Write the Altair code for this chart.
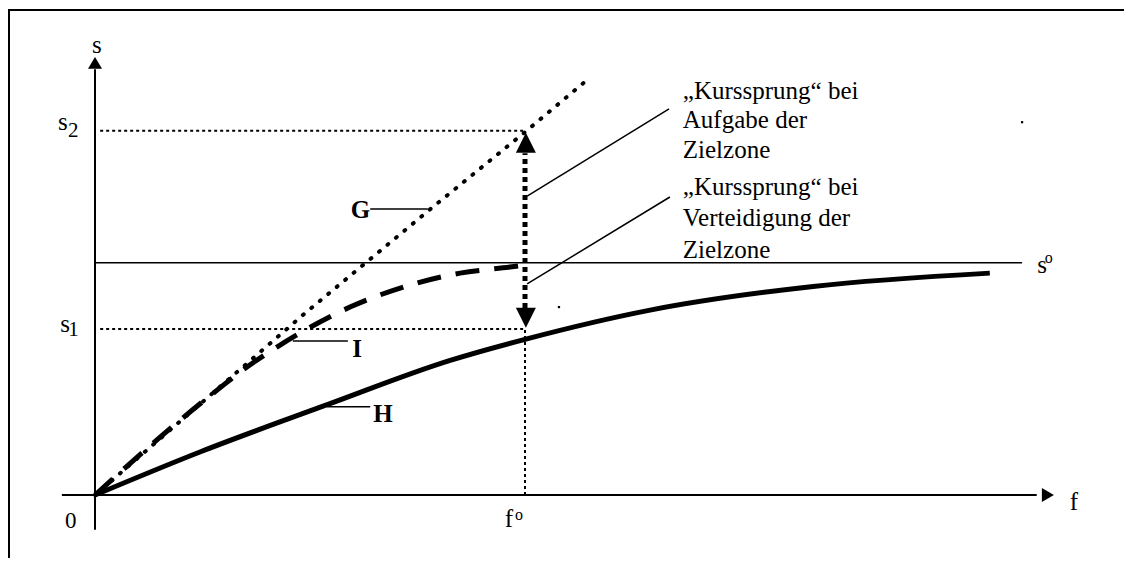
import altair as alt
import pandas as pd

# ---- key levels (data units) ----
F_O = 10.0      # f°
S_O = 5.40      # s°
S_1 = 3.86      # s1
S_2 = 8.47      # s2
F_MAX = 21.90   # end of f axis shaft
S_MAX = 9.90    # end of s axis shaft

# ---- curves ----
G_f = [0.0, 4.84, 7.86, 10.0, 11.44]
G_s = [0.0, 4.19, 6.70, 8.44, 9.65]

I_f = [0.0, 1.44, 1.98, 2.84, 3.44, 4.23, 5.93, 7.49, 8.49, 9.65, 9.88]
I_s = [0.0, 1.28, 1.74, 2.44, 2.91, 3.44, 4.37, 4.93, 5.16, 5.30, 5.33]

H_f = [0.0, 2.44, 5.40, 8.26, 10.0, 12.91, 16.70, 20.81]
H_s = [0.0, 1.00, 2.10, 3.13, 3.62, 4.30, 4.85, 5.16]

# ---- annotation texts ----
note1 = ["\u201eKurssprung\u201c bei", "Aufgabe der", "Zielzone"]
note1_s = [9.21, 8.53, 7.84]
note2 = ["\u201eKurssprung\u201c bei", "Verteidigung der", "Zielzone"]
note2_s = [6.98, 6.26, 5.51]
NOTE_F = 13.67

curve_labels = ["G", "I", "H"]
label_f = [5.95, 5.98, 6.47]
label_s = [6.44, 3.21, 1.70]
leader_f1 = [6.40, 4.60, 5.40]
leader_f2 = [7.74, 5.88, 6.40]
leader_s = [6.65, 3.58, 2.05]

W, H = 1116, 550
XS = alt.Scale(domain=[-2.0233, 23.9302], nice=False, zero=False)
YS = alt.Scale(domain=[-1.4651, 11.3256], nice=False, zero=False)
FONT = "Liberation Serif"


def xe(c="f"):
    return alt.X(f"{c}:Q", scale=XS, axis=None)


def ye(c="s"):
    return alt.Y(f"{c}:Q", scale=YS, axis=None)


one = pd.DataFrame({"a": [0]})

# frame (top and left border)
frame_top = alt.Chart(one).mark_rule(color="black", strokeWidth=2).encode(
    x=alt.value(0), x2=alt.value(W), y=alt.value(2))
frame_left = alt.Chart(one).mark_rule(color="black", strokeWidth=2).encode(
    x=alt.value(1), y=alt.value(2), y2=alt.value(H))

# axes
axes_df = pd.DataFrame({"f": [-0.77, 0.0], "f2": [F_MAX, 0.0],
                        "s": [0.0, -0.81], "s2": [0.0, S_MAX]})
axes = alt.Chart(axes_df).mark_rule(color="black", strokeWidth=2).encode(
    x=xe(), x2="f2:Q", y=ye(), y2="s2:Q")

# arrow heads
heads_df = pd.DataFrame({
    "f": [22.16, 0.0, 10.02, 10.02],
    "s": [0.0, 10.05, 8.19, 4.12],
    "shape": ["M0.85,0L-0.85,-1L-0.85,1Z", "M0,-0.85L1,0.85L-1,0.85Z",
              "M0,-1L1,1L-1,1Z", "M0,1L1,-1L-1,-1Z"],
    "size": [200, 196, 400, 400],
})
heads = alt.Chart(heads_df).mark_point(filled=True, opacity=1, color="black", strokeWidth=0).encode(
    x=xe(), y=ye(),
    shape=alt.Shape("shape:N", scale=None),
    size=alt.Size("size:Q", scale=None))

# s° line
so_df = pd.DataFrame({"f": [0.0], "f2": [21.56], "s": [S_O]})
so_line = alt.Chart(so_df).mark_rule(color="black", strokeWidth=1.5).encode(
    x=xe(), x2="f2:Q", y=ye())

# dotted guides s1, s2 and f°
guide_h = pd.DataFrame({"f": [0.12, 0.12], "f2": [F_O, F_O], "s": [S_1, S_2]})
guides_h = alt.Chart(guide_h).mark_rule(color="black", strokeWidth=2, strokeDash=[3, 3]).encode(
    x=xe(), x2="f2:Q", y=ye())
guide_v = pd.DataFrame({"f": [F_O], "s": [0.0], "s2": [S_1]})
guides_v = alt.Chart(guide_v).mark_rule(color="black", strokeWidth=2, strokeDash=[3, 3]).encode(
    x=xe(), y=ye(), y2="s2:Q")

# curves
g_df = pd.DataFrame({"f": G_f, "s": G_s, "o": range(len(G_f))})
i_df = pd.DataFrame({"f": I_f, "s": I_s, "o": range(len(I_f))})
h_df = pd.DataFrame({"f": H_f, "s": H_s, "o": range(len(H_f))})

g_line = alt.Chart(g_df).mark_line(color="black", strokeWidth=4, strokeDash=[1, 10],
                                   strokeCap="round").encode(x=xe(), y=ye(), order="o:Q")
i_line = alt.Chart(i_df).mark_line(color="black", strokeWidth=5, strokeDash=[24, 15],
                                   interpolate="monotone").encode(x=xe(), y=ye(), order="o:Q")
h_line = alt.Chart(h_df).mark_line(color="black", strokeWidth=5,
                                   interpolate="monotone").encode(x=xe(), y=ye(), order="o:Q")

# double arrow shaft (jump)
jump_df = pd.DataFrame({"f": [F_O], "s": [4.35], "s2": [7.95]})
jump = alt.Chart(jump_df).mark_rule(color="black", strokeWidth=5, strokeDash=[5, 4]).encode(
    x=xe(), y=ye(), y2="s2:Q")

# callout lines
call_df = pd.DataFrame({"f": [10.05, 10.05], "f2": [13.35, 13.37],
                        "s": [6.95, 4.91], "s2": [8.98, 6.93]})
callouts = alt.Chart(call_df).mark_rule(color="black", strokeWidth=1.5).encode(
    x=xe(), x2="f2:Q", y=ye(), y2="s2:Q")

# curve label leaders
lead_df = pd.DataFrame({"f": leader_f1, "f2": leader_f2, "s": leader_s})
leaders = alt.Chart(lead_df).mark_rule(color="black", strokeWidth=1.5).encode(
    x=xe(), x2="f2:Q", y=ye())

# bold curve labels
lab_df = pd.DataFrame({"f": label_f, "s": label_s, "t": curve_labels})
labels = alt.Chart(lab_df).mark_text(font=FONT, fontSize=25, fontWeight="bold", align="left",
                                     baseline="alphabetic", color="black").encode(
    x=xe(), y=ye(), text="t:N")

# notes
notes_df = pd.DataFrame({"f": [NOTE_F] * 6, "s": note1_s + note2_s, "t": note1 + note2})
notes = alt.Chart(notes_df).mark_text(font=FONT, fontSize=25, align="left",
                                      baseline="alphabetic", color="black").encode(
    x=xe(), y=ye(), text="t:N")

# axis symbols
sym_df = pd.DataFrame({
    "t": ["s", "s", "2", "s", "1", "0", "f", "o", "s", "o", "f"],
    "f": [-0.07, -0.86, -0.63, -0.81, -0.62, -0.70, 9.53, 9.77, 21.91, 22.09, 22.67],
    "s": [10.28, 8.49, 8.33, 3.79, 3.70, -0.77, -0.74, -0.58, 5.16, 5.40, -0.35],
    "size": [25, 25, 21, 25, 21, 23, 25, 16, 25, 16, 25],
})
symbols = alt.Chart(sym_df).mark_text(font=FONT, align="left", baseline="alphabetic",
                                      color="black").encode(
    x=xe(), y=ye(), text="t:N", size=alt.Size("size:Q", scale=None))

# stray specks in the original
specks_df = pd.DataFrame({"f": [21.56, 10.79], "s": [8.67, 4.37]})
specks = alt.Chart(specks_df).mark_square(color="black", size=5, opacity=1).encode(x=xe(), y=ye())

chart = alt.layer(
    frame_top, frame_left, so_line, guides_h, guides_v, axes, heads,
    h_line, i_line, g_line, jump, callouts, leaders, labels, notes, symbols, specks
).properties(
    width=W, height=H, padding=0, autosize=alt.AutoSizeParams(type="none"),
    background="white"
).configure_view(stroke=None)

chart.save("out.html", embed_options={"renderer": "svg", "actions": False})
